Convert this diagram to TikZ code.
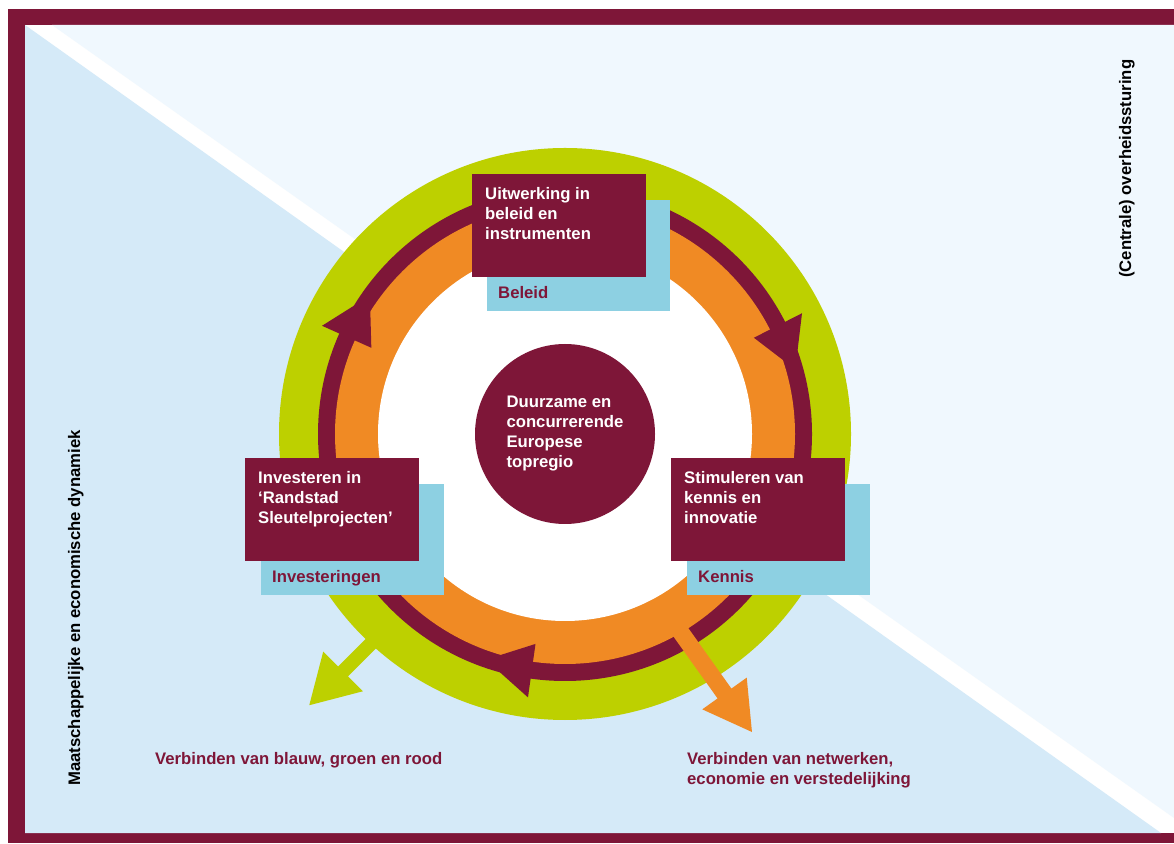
\documentclass[tikz,border=0pt]{standalone}
\usepackage{fontspec}
\setmainfont{Liberation Sans}
\definecolor{bordeauxR}{HTML}{7E1638}
\definecolor{groenR}{HTML}{BDD000}
\definecolor{oranjeR}{HTML}{F08A24}
\definecolor{blauwKader}{HTML}{8DD0E2}
\definecolor{lichtBlauw}{HTML}{D5EAF8}
\definecolor{bleekBlauw}{HTML}{F0F8FE}

\begin{document}
\begin{tikzpicture}[x=1pt,y=1pt,
    every node/.style={inner sep=0pt,font=\fontsize{16.7}{20}\selectfont\bfseries},
    titel/.style={text=white,align=left,anchor=north west},
    bijschrift/.style={text=bordeauxR,anchor=base west}]
    \useasboundingbox (0,0) rectangle (1174,843);
    % achtergrond
    \fill[white] (0,0) rectangle (1174,843);
    \fill[bordeauxR] (8,0) rectangle (1174,834);
    \fill[white] (25,10) rectangle (1174,818);
    \fill[lichtBlauw] (25,818) -- (1161,10) -- (25,10) -- cycle;
    \fill[bleekBlauw] (52,818) -- (1174,818) -- (1174,25) -- cycle;
    % ringen
    \coordinate (c) at (565,409);
    \fill[groenR] (c) circle (286);
    \fill[bordeauxR] (c) circle (247);
    \fill[oranjeR] (c) circle (230);
    \fill[white] (c) circle (187);
    % pijlpunten op de ring
    \foreach \a in {156,27,-98}
      \fill[bordeauxR,shift={(c)},rotate=\a] (212,0) -- (266,0) -- (234.5,-47) -- cycle;
    % groene en oranje pijl
    \coordinate (gp) at (343,171.5);
    \fill[groenR,shift={(gp)},rotate=225]
      (-60,-7) -- (0,-7) -- (0,-28) -- (47.7,0) -- (0,28) -- (0,7) -- (-60,7) -- cycle;
    \coordinate (op) at (724.5,149.5);
    \fill[oranjeR,shift={(op)},rotate=-54.5]
      (-105,-8.5) -- (0,-8.5) -- (0,-27.3) -- (47.3,0) -- (0,27.3) -- (0,8.5) -- (-105,8.5) -- cycle;
    % middencirkel
    \fill[bordeauxR] (c) circle (90);
    \node[text=white,align=left] (doel) at (c) {Duurzame en\\concurrerende\\Europese\\topregio};
    % kaders
    \fill[blauwKader] (487,532) rectangle (670,643);
    \fill[bordeauxR] (472,566) rectangle (646,669);
    \fill[blauwKader] (261,248) rectangle (444,359);
    \fill[bordeauxR] (245,282) rectangle (419,385);
    \fill[blauwKader] (687,248) rectangle (870,359);
    \fill[bordeauxR] (671,282) rectangle (845,385);
    \node[titel] (beleidT) at (485,656) {Uitwerking in\\beleid en\\instrumenten};
    \node[bijschrift] (beleid) at (498,544) {Beleid};
    \node[titel] (investT) at (258,372) {Investeren in\\‘Randstad\\Sleutelprojecten’};
    \node[bijschrift] (invest) at (272,260) {Investeringen};
    \node[titel] (kennisT) at (684,372) {Stimuleren van\\kennis en\\innovatie};
    \node[bijschrift] (kennis) at (698,260) {Kennis};
    % teksten onder en opzij
    \node[bijschrift] (blauwgroen) at (155,79) {Verbinden van blauw, groen en rood};
    \node[bijschrift,align=left,anchor=north west] (netwerken) at (687,91)
      {Verbinden van netwerken,\\economie en verstedelijking};
    \node[rotate=90,anchor=base west] (dynamiek) at (80,57) {Maatschappelijke en economische dynamiek};
    \node[rotate=90,anchor=base west] (sturing) at (1131,565) {(Centrale) overheidssturing};
\end{tikzpicture}
\end{document}
